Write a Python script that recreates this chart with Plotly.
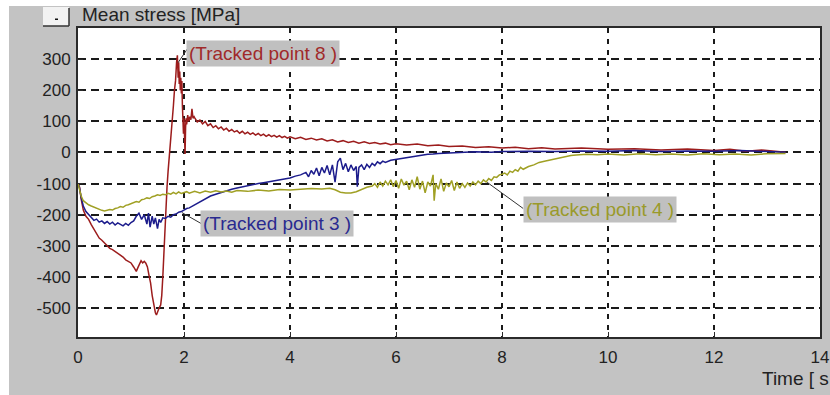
import plotly.graph_objects as go

# ---------------- data ----------------
t_p8 = [0.00, 0.03, 0.06, 0.10, 0.15, 0.20, 0.25, 0.30, 0.35, 0.40, 0.45, 0.50, 0.55, 0.60, 0.65, 0.70,
        0.75, 0.80, 0.85, 0.90, 0.95, 1.00, 1.05, 1.10, 1.13, 1.16, 1.19, 1.22, 1.25, 1.28, 1.31, 1.34,
        1.37, 1.40, 1.43, 1.46, 1.48, 1.50, 1.53, 1.56, 1.58, 1.60, 1.62, 1.64, 1.66, 1.68, 1.70, 1.72,
        1.74, 1.76, 1.78, 1.80, 1.82, 1.84, 1.86, 1.875, 1.89, 1.90, 1.91, 1.92, 1.93, 1.94, 1.95, 1.96,
        1.97, 1.98, 1.99, 2.00, 2.01, 2.02, 2.03, 2.04, 2.05, 2.07, 2.09, 2.11, 2.13, 2.15, 2.17, 2.19,
        2.20, 2.25, 2.30, 2.35, 2.40, 2.45, 2.50, 2.55, 2.60, 2.65, 2.70, 2.75, 2.80, 2.85, 2.90, 2.95,
        3.00, 3.05, 3.10, 3.15, 3.20, 3.25, 3.30, 3.35, 3.40, 3.45, 3.50, 3.55, 3.60, 3.65, 3.70, 3.75,
        3.80, 3.85, 3.90, 3.95, 4.00, 4.10, 4.20, 4.30, 4.40, 4.50, 4.60, 4.70, 4.80, 4.90, 5.00, 5.10,
        5.20, 5.30, 5.40, 5.50, 5.60, 5.70, 5.80, 5.90, 6.00, 6.20, 6.40, 6.60, 6.80, 7.00, 7.25, 7.50,
        7.75, 8.00, 8.25, 8.50, 8.75, 9.00, 9.50, 10.00, 10.50, 11.00, 11.50, 12.00, 12.30, 12.60, 12.90,
        13.20, 13.35]
v_p8 = [-100, -112, -150, -185, -205, -215, -232, -248, -262, -275, -282, -290, -300, -308, -312, -318,
        -322, -330, -336, -345, -350, -355, -368, -382, -370, -358, -348, -355, -350, -356, -368, -395,
        -420, -460, -495, -515, -522, -512, -500, -490, -460, -400, -320, -240, -170, -110, -60, -20,
        10, 50, 90, 150, 200, 230, 290, 312, 240, 290, 220, 260, 200, 240, 190, 230,
        150, 90, 60, 110, 0, -5, 80, 110, 90, 120, 100, 115, 105, 140, 110, 115,
        112, 98, 104, 92, 100, 86, 92, 80, 86, 76, 82, 72, 78, 68, 74, 66,
        70, 62, 68, 60, 65, 58, 63, 56, 61, 54, 59, 52, 57, 51, 55, 49,
        54, 48, 52, 46, 50, 44, 49, 42, 46, 40, 44, 37, 41, 34, 38, 32,
        36, 30, 34, 29, 32, 27, 30, 25, 28, 24, 27, 22, 24, 19, 21, 16,
        18, 14, 17, 12, 15, 11, 14, 10, 12, 8, 11, 6, 10, 4, 8,
        3, 1]

t_p3 = [0.00, 0.03, 0.06, 0.10, 0.15, 0.20, 0.25, 0.30, 0.35, 0.40, 0.45, 0.50, 0.55, 0.60, 0.65, 0.70,
        0.75, 0.80, 0.85, 0.90, 0.95, 1.00, 1.05, 1.10, 1.15, 1.20, 1.25, 1.30, 1.33, 1.36, 1.40, 1.43,
        1.46, 1.50, 1.53, 1.56, 1.60, 1.65, 1.70, 1.75, 1.80, 1.85, 1.90, 1.95, 2.00, 2.05, 2.10, 2.20,
        2.30, 2.40, 2.50, 2.60, 2.70, 2.80, 2.90, 3.00, 3.10, 3.20, 3.30, 3.40, 3.50, 3.60, 3.70, 3.80,
        3.90, 4.00, 4.10, 4.20, 4.30, 4.35, 4.40, 4.45, 4.50, 4.55, 4.60, 4.65, 4.70, 4.75, 4.80, 4.85,
        4.90, 4.95, 5.00, 5.05, 5.10, 5.15, 5.20, 5.25, 5.27, 5.30, 5.35, 5.40, 5.45, 5.50, 5.55, 5.60,
        5.65, 5.70, 5.75, 5.80, 5.90, 6.00, 6.10, 6.20, 6.30, 6.40, 6.50, 6.60, 6.70, 6.80, 7.00, 7.20,
        7.50, 7.80, 8.00, 8.50, 9.00, 9.50, 10.00, 10.50, 11.00, 11.50, 12.00, 12.50, 13.00, 13.35]
v_p3 = [-100, -115, -145, -172, -190, -200, -210, -218, -214, -224, -220, -228, -222, -230, -224, -233,
        -226, -232, -236, -228, -234, -225, -220, -205, -195, -215, -200, -230, -195, -240, -205, -230,
        -210, -245, -215, -225, -210, -212, -205, -208, -200, -198, -192, -190, -185, -180, -178, -168,
        -158, -148, -140, -134, -128, -123, -118, -114, -110, -108, -104, -100, -97, -94, -92, -88,
        -84, -82, -76, -72, -64, -78, -58, -70, -50, -75, -48, -66, -42, -72, -40, -95,
        -30, -18, -55, -35, -62, -40, -58, -45, -110, -48, -40, -55, -38, -48, -35, -42,
        -30, -36, -28, -32, -25, -22, -20, -16, -14, -10, -9, -6, -5, -3, -2, 0,
        2, 1, 3, 4, 3, 5, 4, 6, 3, 5, 4, 6, 2, 1]

t_p4 = [0.00, 0.03, 0.06, 0.10, 0.15, 0.20, 0.25, 0.30, 0.35, 0.40, 0.45, 0.50, 0.55, 0.60, 0.65, 0.70,
        0.75, 0.80, 0.85, 0.90, 0.95, 1.00, 1.05, 1.10, 1.15, 1.20, 1.25, 1.30, 1.35, 1.40, 1.45, 1.50,
        1.55, 1.60, 1.65, 1.70, 1.75, 1.80, 1.85, 1.90, 1.95, 2.00, 2.05, 2.10, 2.20, 2.30, 2.40, 2.50,
        2.60, 2.70, 2.80, 2.90, 3.00, 3.20, 3.40, 3.60, 3.80, 4.00, 4.20, 4.40, 4.60, 4.75, 4.85, 4.95,
        5.05, 5.15, 5.25, 5.35, 5.45, 5.55, 5.60, 5.65, 5.70, 5.75, 5.80, 5.85, 5.90, 5.95, 6.00, 6.05,
        6.10, 6.15, 6.20, 6.25, 6.30, 6.35, 6.40, 6.45, 6.50, 6.55, 6.60, 6.65, 6.70, 6.72, 6.75, 6.80,
        6.85, 6.90, 6.95, 7.00, 7.05, 7.10, 7.15, 7.20, 7.25, 7.30, 7.35, 7.40, 7.45, 7.50, 7.55, 7.60,
        7.65, 7.70, 7.75, 7.80, 7.85, 7.90, 7.95, 8.00, 8.05, 8.10, 8.15, 8.20, 8.25, 8.30, 8.35, 8.40,
        8.50, 8.60, 8.70, 8.80, 8.90, 9.00, 9.10, 9.20, 9.30, 9.40, 9.60, 9.80, 10.00, 10.30, 10.60, 10.90,
        11.20, 11.50, 11.80, 12.10, 12.40, 12.70, 13.00, 13.35]
v_p4 = [-100, -118, -140, -155, -162, -168, -172, -176, -180, -183, -186, -188, -185, -183, -185, -180,
        -178, -174, -176, -170, -168, -165, -162, -158, -160, -152, -150, -146, -148, -142, -140, -136,
        -138, -134, -136, -131, -134, -128, -133, -127, -132, -130, -126, -131, -125, -130, -124, -128,
        -123, -127, -124, -128, -122, -125, -121, -124, -119, -121, -118, -116, -117, -115, -120, -128,
        -130, -130, -126, -118, -112, -108, -100, -112, -95, -108, -92, -104, -88, -110, -90, -115,
        -85, -105, -92, -120, -88, -112, -78, -118, -92, -130, -95, -108, -72, -155, -100, -118,
        -85, -125, -98, -110, -90, -122, -95, -115, -100, -112, -98, -108, -95, -104, -92, -100,
        -88, -95, -84, -90, -78, -80, -72, -70, -66, -72, -60, -64, -55, -60, -48, -54,
        -45, -40, -32, -28, -24, -20, -16, -13, -10, -8, -6, -7, -5, -8, -4, -7,
        -5, -8, -4, -7, -5, -8, -4, -3]

series_names = ["(Tracked point 8 )", "(Tracked point 3 )", "(Tracked point 4 )"]
series_colors = ["#9c1c1c", "#1c1c8c", "#a0a024"]
label_colors = ["#a02a2a", "#2a2a90", "#9a9a2a"]

y_ticks = [-500, -400, -300, -200, -100, 0, 100, 200, 300]
x_ticks = [0, 2, 4, 6, 8, 10, 12, 14]

# label boxes: (x, y) of left-middle of the box, and leader line (x0, y0, x1, y1) in data units
label_pos = [(2.04, 318), (2.30, -228), (8.40, -182)]
leader_lines = [(1.89, 289, 2.06, 332), (1.96, -193, 2.32, -228), (7.72, -96, 8.40, -180)]

# ---------------- figure ----------------
W, H = 830, 395
L, R, T, B = 78, 820, 28, 337
FONT = "Liberation Sans, Arial, sans-serif"


def px(x):
    return (x - L) / (R - L)


def py(y):
    return (B - y) / (B - T)


fig = go.Figure()
for tt, vv, col, name in zip([t_p8, t_p3, t_p4], [v_p8, v_p3, v_p4], series_colors, series_names):
    fig.add_trace(go.Scatter(x=tt, y=vv, mode="lines", name=name,
                             line=dict(color=col, width=1.5), showlegend=False))

shapes = []
# white strips left/top of the grey window
shapes.append(dict(type="rect", xref="paper", yref="paper", x0=px(0), x1=px(9), y0=py(0), y1=py(H),
                   fillcolor="white", line=dict(width=0), layer="above"))
shapes.append(dict(type="rect", xref="paper", yref="paper", x0=px(0), x1=px(W), y0=py(0), y1=py(6),
                   fillcolor="white", line=dict(width=0), layer="above"))
# little button
shapes.append(dict(type="rect", xref="paper", yref="paper", x0=px(43), x1=px(69), y0=py(26), y1=py(7),
                   fillcolor="#f2f2f2", line=dict(width=0), layer="above"))
shapes.append(dict(type="line", xref="paper", yref="paper", x0=px(69), x1=px(69), y0=py(26), y1=py(8),
                   line=dict(color="#333333", width=1.5), layer="above"))
shapes.append(dict(type="line", xref="paper", yref="paper", x0=px(43), x1=px(69), y0=py(26), y1=py(26),
                   line=dict(color="#333333", width=1.5), layer="above"))
shapes.append(dict(type="rect", xref="paper", yref="paper", x0=px(55), x1=px(58), y0=py(20), y1=py(18.5),
                   fillcolor="#111111", line=dict(width=0), layer="above"))
# leader lines
for (x0, y0, x1, y1) in leader_lines:
    shapes.append(dict(type="line", xref="x", yref="y", x0=x0, y0=y0, x1=x1, y1=y1,
                       line=dict(color="#333333", width=1), layer="above"))

annotations = []
for (x, y), name, col in zip(label_pos, series_names, label_colors):
    annotations.append(dict(x=x, y=y, xref="x", yref="y", text=name, showarrow=False,
                            xanchor="left", yanchor="middle", bgcolor="#c0c0c0", borderpad=2,
                            font=dict(family=FONT, size=19, color=col)))
annotations.append(dict(x=px(80), y=py(15), xref="paper", yref="paper", text="Mean stress [MPa]",
                        showarrow=False, xanchor="left", yanchor="middle",
                        font=dict(family=FONT, size=19, color="#222222")))
annotations.append(dict(x=px(760), y=py(378), xref="paper", yref="paper", text="Time [ s ]",
                        showarrow=False, xanchor="left", yanchor="middle",
                        font=dict(family=FONT, size=19, color="#222222")))

fig.update_layout(
    width=W, height=H, autosize=False,
    margin=dict(l=L, r=W - R, t=T, b=H - B),
    paper_bgcolor="#c3c3c3", plot_bgcolor="white",
    shapes=shapes, annotations=annotations,
    showlegend=False,
    font=dict(family=FONT, size=17, color="#222222"),
)
fig.update_xaxes(range=[0, 14], tickvals=x_ticks, ticktext=[str(v) for v in x_ticks],
                 showgrid=True, gridcolor="#1a1a1a", griddash="5px,6px", gridwidth=1.8,
                 zeroline=False, showline=True, linecolor="#2a2a2a", linewidth=2, mirror=True,
                 ticks="inside", ticklen=5, tickcolor="#2a2a2a", tickfont=dict(size=17),
                 ticklabelstandoff=4, automargin=False)
fig.update_yaxes(range=[-593, 400], tickvals=y_ticks, ticktext=[str(v) for v in y_ticks],
                 showgrid=True, gridcolor="#1a1a1a", griddash="8px,5px", gridwidth=1.8,
                 zeroline=False, showline=True, linecolor="#2a2a2a", linewidth=2, mirror=True,
                 ticks="inside", ticklen=5, tickcolor="#2a2a2a", tickfont=dict(size=17),
                 ticklabelstandoff=2, automargin=False)

fig.write_html("out.html", config={"responsive": False})
